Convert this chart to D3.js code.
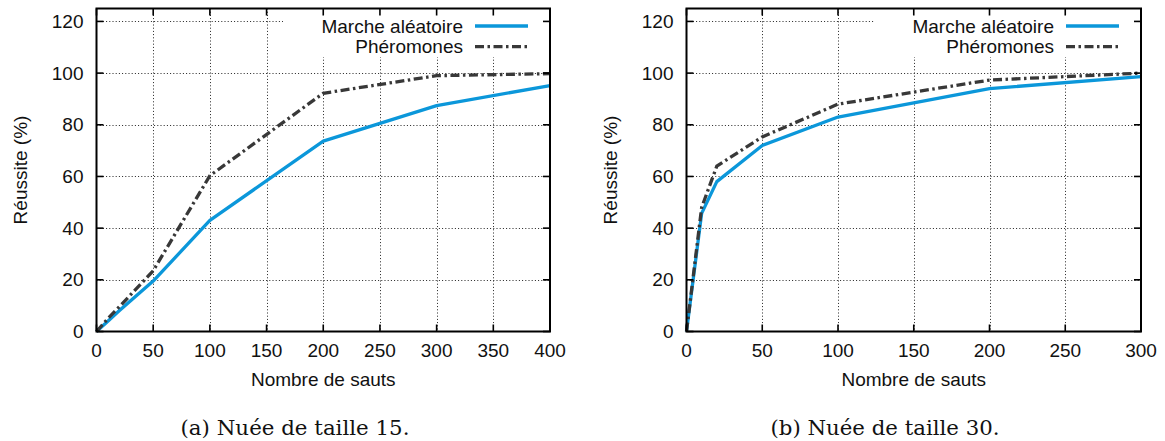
<!DOCTYPE html>
<html>
<head>
<meta charset="utf-8">
<script src="https://cdn.jsdelivr.net/npm/d3@7/dist/d3.min.js"></script>
<style>
  html, body { margin: 0; padding: 0; background: #fff; }
  svg { display: block; }
  .lbl { font-family: "Liberation Sans", Arial, Helvetica, sans-serif; font-size: 19px; fill: #111; }
  .cap { font-family: "DejaVu Serif", "Liberation Serif", serif; font-size: 21px; fill: #111; }
</style>
</head>
<body>
<svg id="chart" width="1165" height="441"></svg>
<script>
// ---- Data ----
const yTicks = [0, 20, 40, 60, 80, 100, 120];
const xTicksA = [0, 50, 100, 150, 200, 250, 300, 350, 400];
const xTicksB = [0, 50, 100, 150, 200, 250, 300];

const hopsA = [0, 10, 20, 50, 100, 200, 300, 400];
const randomA = [0, 4, 8, 19.5, 43, 73.7, 87.4, 95.2];
const pheroA = [0, 5, 9.5, 23.5, 60.3, 92.2, 99, 99.8];

const hopsB = [0, 10, 20, 50, 100, 200, 300];
const randomB = [0, 45.7, 58, 72, 83, 94, 98.6];
const pheroB = [0, 48, 64, 75.3, 88, 97.3, 100];

const seriesNames = ["Marche aléatoire", "Phéromones"];
const xTitle = "Nombre de sauts";
const yTitle = "Réussite (%)";
const captions = ["(a) Nuée de taille 15.", "(b) Nuée de taille 30."];

// ---- Drawing ----
const svg = d3.select("#chart");
const BLUE = "#0b97da";
const DARK = "#383838";

function panel(opt) {
  const g = svg.append("g");
  const x = d3.scaleLinear().domain(opt.xDomain).range([opt.left, opt.right]);
  const y = d3.scaleLinear().domain([0, 125]).range([331.5, 8.5]);
  const keyLeft = opt.right - 267, keyBottom = 57;

  // grid
  const grid = g.append("g").attr("stroke", "#222").attr("stroke-width", 1).attr("stroke-dasharray", "1,2.2");
  grid.selectAll("line.h").data(yTicks.filter(d => d > 0)).join("line")
    .attr("x1", opt.left).attr("x2", opt.right)
    .attr("y1", d => Math.round(y(d)) + 0.5).attr("y2", d => Math.round(y(d)) + 0.5);
  grid.selectAll("line.v").data(opt.xTicks.filter((d, i) => i > 0 && i < opt.xTicks.length - 1)).join("line")
    .attr("x1", d => Math.round(x(d)) + 0.5).attr("x2", d => Math.round(x(d)) + 0.5)
    .attr("y1", y(125)).attr("y2", y(0));
  // key mask
  g.append("rect").attr("x", keyLeft).attr("y", y(125)).attr("width", opt.right - keyLeft)
    .attr("height", keyBottom - y(125)).attr("fill", "#fff");

  // data lines
  const line = d3.line().x(d => x(d[0])).y(d => y(d[1]));
  g.append("path").datum(opt.hops.map((h, i) => [h, opt.random[i]]))
    .attr("d", line).attr("fill", "none").attr("stroke", BLUE).attr("stroke-width", 3.3)
    .attr("stroke-linejoin", "round");
  g.append("path").datum(opt.hops.map((h, i) => [h, opt.phero[i]]))
    .attr("d", line).attr("fill", "none").attr("stroke", DARK).attr("stroke-width", 3.3)
    .attr("stroke-dasharray", "9,3.5,2.5,3.5");

  // axes with inward ticks (mirrored)
  const tl = 7;
  const ax = g.append("g").attr("stroke", "#000").attr("stroke-width", 1.6);
  yTicks.forEach(v => {
    ax.append("line").attr("x1", opt.left).attr("x2", opt.left + tl).attr("y1", y(v)).attr("y2", y(v));
    ax.append("line").attr("x1", opt.right).attr("x2", opt.right - tl).attr("y1", y(v)).attr("y2", y(v));
  });
  opt.xTicks.forEach(v => {
    ax.append("line").attr("x1", x(v)).attr("x2", x(v)).attr("y1", y(0)).attr("y2", y(0) - tl);
    ax.append("line").attr("x1", x(v)).attr("x2", x(v)).attr("y1", y(125)).attr("y2", y(125) + tl);
  });
  g.append("rect").attr("x", opt.left).attr("y", y(125)).attr("width", opt.right - opt.left)
    .attr("height", y(0) - y(125)).attr("fill", "none").attr("stroke", "#000").attr("stroke-width", 2);

  // tick labels
  g.selectAll("text.yt").data(yTicks).join("text").attr("class", "lbl")
    .attr("x", opt.left - 13).attr("y", d => y(d)).attr("dy", "0.35em")
    .attr("text-anchor", "end").text(d => d);
  g.selectAll("text.xt").data(opt.xTicks).join("text").attr("class", "lbl")
    .attr("x", d => x(d)).attr("y", 357).attr("text-anchor", "middle").text(d => d);

  // titles
  g.append("text").attr("class", "lbl").attr("x", (opt.left + opt.right) / 2).attr("y", 386)
    .attr("text-anchor", "middle").text(xTitle);
  g.append("text").attr("class", "lbl")
    .attr("transform", `translate(${opt.left - 70},${(y(0) + y(125)) / 2}) rotate(-90)`)
    .attr("text-anchor", "middle").text(yTitle);

  // legend
  const lx2 = opt.right - 22, lx1 = lx2 - 53, tx = lx1 - 12;
  const rows = [26, 46.7];
  const styles = [{ c: BLUE, d: null }, { c: DARK, d: "9,3.5,2.5,3.5" }];
  seriesNames.forEach((n, i) => {
    g.append("text").attr("class", "lbl").attr("x", tx).attr("y", rows[i]).attr("dy", "0.35em")
      .attr("text-anchor", "end").text(n);
    const l = g.append("line").attr("x1", lx1).attr("x2", lx2).attr("y1", rows[i]).attr("y2", rows[i])
      .attr("stroke", styles[i].c).attr("stroke-width", 3.3);
    if (styles[i].d) l.attr("stroke-dasharray", styles[i].d);
  });

  // caption
  g.append("text").attr("class", "cap").attr("x", opt.capX).attr("y", 435)
    .attr("text-anchor", "middle").attr("textLength", 229).attr("lengthAdjust", "spacingAndGlyphs")
    .text(opt.caption);
}

panel({ left: 96.5, right: 550, xDomain: [0, 400], xTicks: xTicksA,
  hops: hopsA, random: randomA, phero: pheroA, caption: captions[0], capX: 295 });
panel({ left: 686.5, right: 1141, xDomain: [0, 300], xTicks: xTicksB,
  hops: hopsB, random: randomB, phero: pheroB, caption: captions[1], capX: 885 });
</script>
</body>
</html>
